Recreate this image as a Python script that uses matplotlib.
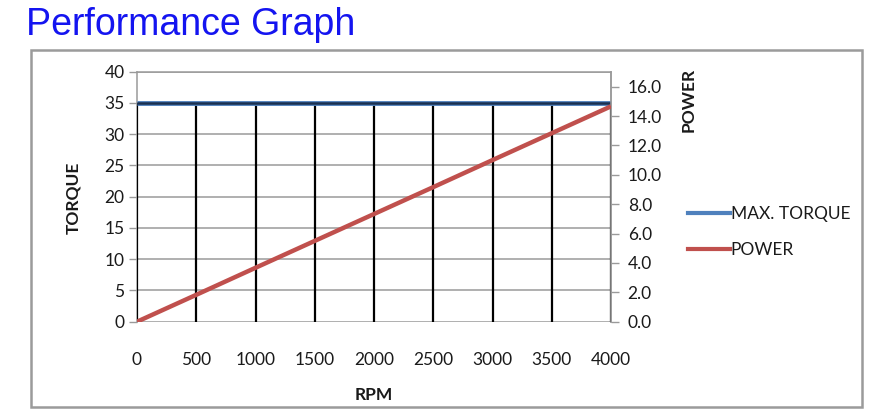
import matplotlib
matplotlib.use("Agg")
import matplotlib.pyplot as plt
from matplotlib.patches import Rectangle
from matplotlib.lines import Line2D

rpm = [0, 500, 1000, 1500, 2000, 2500, 3000, 3500, 4000]
max_torque = [35, 35, 35, 35, 35, 35, 35, 35, 35]
power = [0.0, 1.83, 3.67, 5.50, 7.33, 9.16, 11.0, 12.83, 14.66]
torque_ticks = [0, 5, 10, 15, 20, 25, 30, 35, 40]
power_ticks = [0, 2, 4, 6, 8, 10, 12, 14, 16]

W, H = 874, 416
fig = plt.figure(figsize=(W / 100, H / 100), dpi=100)
FONT = "Lato"
FS = 12.5
TXT = "#1a1a1a"
GRID = "#9a9a9a"

def fx(x):
    return x / W

def fy(y):
    return 1 - y / H

# outer border
fig.patches.append(Rectangle((fx(31), fy(407)), fx(862) - fx(31), fy(50) - fy(407),
                             transform=fig.transFigure, fill=False,
                             edgecolor="#9b9b9b", linewidth=1.8))

fig.text(fx(26), fy(35), "Performance Graph", color="#1414F0", fontsize=27,
         family="Liberation Sans", va="baseline", ha="left")

ax = fig.add_axes([fx(137), fy(321.7), fx(611) - fx(137), fy(71.5) - fy(321.7)])
ax.set_xlim(0, 4000)
ax.set_ylim(0, 40)
ax.set_xticks(rpm)
ax.set_yticks(torque_ticks)
ax.set_xticklabels([str(v) for v in rpm], family=FONT, fontsize=FS, color=TXT)
ax.set_yticklabels([str(v) for v in torque_ticks], family=FONT, fontsize=FS, color=TXT)
ax.tick_params(axis="x", length=0, pad=21.5)
ax.tick_params(axis="y", length=6, width=1, color=GRID, pad=3, direction="out")
ax.grid(axis="y", color=GRID, linewidth=1.1)
ax.set_axisbelow(True)
for s in ax.spines.values():
    s.set_color(GRID)
    s.set_linewidth(1.1)
ax.spines["bottom"].set_visible(False)

# drop lines
ax.vlines(rpm, 0, max_torque, colors="black", linewidth=1.6, zorder=3)
ax.plot(rpm, max_torque, color="#4F81BD", linewidth=3.5, zorder=4, solid_capstyle="butt")
ax.plot(rpm, max_torque, color="#1a3050", linewidth=1.8, zorder=4, solid_capstyle="butt")

ax2 = ax.twinx()
ax2.set_ylim(0, 17.03)
ax2.set_yticks(power_ticks)
ax2.set_yticklabels([f"{v:.1f}" for v in power_ticks], family=FONT, fontsize=FS, color=TXT)
ax2.tick_params(axis="y", length=6, width=1, color=GRID, pad=6, direction="out")
for s in ax2.spines.values():
    s.set_visible(False)
ax2.spines["right"].set_visible(True)
ax2.spines["right"].set_color(GRID)
ax2.spines["right"].set_linewidth(1.1)
ax2.plot(rpm, power, color="#C0504D", linewidth=3.2, zorder=5, solid_capstyle="butt")

fig.text(fx(374), fy(395), "RPM", family=FONT, fontsize=FS, fontweight="bold",
         color=TXT, ha="center", va="center")
fig.text(fx(73), fy(198), "TORQUE", family=FONT, fontsize=FS, fontweight="bold",
         color=TXT, ha="center", va="center", rotation=90)
fig.text(fx(689), fy(100), "POWER", family=FONT, fontsize=FS, fontweight="bold",
         color=TXT, ha="center", va="center", rotation=90)

handles = [Line2D([], [], color="#4F81BD", linewidth=3),
           Line2D([], [], color="#C0504D", linewidth=3)]
leg = fig.legend(handles, ["MAX. TORQUE", "POWER"], loc="upper left",
                 bbox_to_anchor=(fx(688), fy(206)), frameon=False,
                 prop={"family": FONT, "size": FS}, handlelength=2.4,
                 handletextpad=0.05, labelspacing=1.15, borderaxespad=0, borderpad=0)
for t in leg.get_texts():
    t.set_color(TXT)

fig.savefig("out.png", dpi=100)
